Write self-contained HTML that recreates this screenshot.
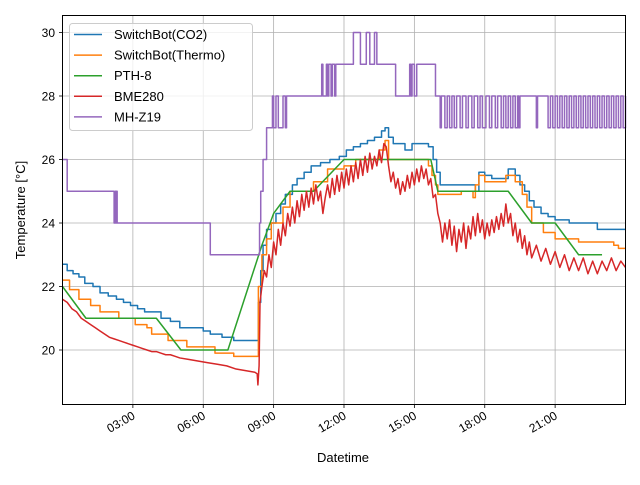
<!DOCTYPE html>
<html><head><meta charset="utf-8"><style>
body{margin:0;background:#fff;}
svg{font-family:"Liberation Sans","DejaVu Sans",sans-serif;}
</style></head><body>
<svg id="chart" width="640" height="480" xmlns="http://www.w3.org/2000/svg">
<rect width="640" height="480" fill="#fff"/>
<g id="grid"></g>
<g id="series"></g>
<rect x="62.5" y="15.5" width="563" height="389" fill="none" stroke="#000" stroke-width="1"/>
<g id="ticks"></g>
<text x="343" y="462" font-size="13" text-anchor="middle">Datetime</text>
<text transform="translate(25,210) rotate(-90)" font-size="13" text-anchor="middle">Temperature [°C]</text>
<g id="legend"></g>
</svg>
<script>
const xTickHours=[3,6,9,12,15,18,21];
const xTickLabels=["03:00","06:00","09:00","12:00","15:00","18:00","21:00"];
const yTicks=[20,22,24,26,28,30];
const seriesNames=["SwitchBot(CO2)","SwitchBot(Thermo)","PTH-8","BME280","MH-Z19"];
const seriesColors=["#1f77b4","#ff7f0e","#2ca02c","#d62728","#9467bd"];
const co2Data=[[0,22.7],[0.2,22.5],[0.45,22.4],[0.7,22.3],[0.95,22.1],[1.3,22.0],[1.6,21.8],[1.95,21.7],[2.3,21.6],[2.6,21.5],[2.9,21.4],[3.2,21.3],[3.5,21.2],[4.2,21.0],[4.6,20.9],[5.0,20.7],[6.0,20.6],[6.3,20.5],[6.8,20.4],[7.3,20.3],[8.35,21.5],[8.45,22.5],[8.55,23.3],[8.7,23.8],[8.9,24.0],[9.1,24.3],[9.3,24.6],[9.5,24.9],[9.8,25.2],[10.0,25.4],[10.3,25.6],[10.6,25.8],[11.0,25.9],[11.4,26.0],[11.8,26.1],[12.1,26.3],[12.4,26.4],[12.7,26.5],[13.0,26.6],[13.3,26.7],[13.6,26.9],[13.75,27.0],[13.9,26.7],[14.1,26.5],[14.6,26.3],[14.9,26.5],[15.6,26.4],[15.8,26.0],[15.95,25.6],[16.1,25.2],[17.6,25.0],[17.75,25.6],[18.0,25.5],[18.3,25.4],[19.0,25.7],[19.3,25.5],[19.5,25.2],[19.7,25.0],[19.9,24.7],[20.1,24.5],[20.4,24.3],[20.7,24.2],[21.0,24.1],[21.6,24.0],[22.8,23.8],[24,23.8]];
const thermoData=[[0,22.2],[0.3,21.9],[0.7,21.6],[1.2,21.4],[1.6,21.2],[2.4,21.0],[3.1,20.8],[3.6,20.7],[3.8,20.5],[4.5,20.3],[5.3,20.1],[6.5,19.9],[7.3,19.8],[8.35,22.0],[8.5,23.0],[8.7,23.5],[8.9,24.0],[9.4,24.5],[9.7,25.0],[10.7,25.3],[11.3,25.7],[12.0,25.8],[12.5,26.0],[13.5,26.3],[13.75,26.6],[13.9,26.0],[15.6,25.8],[15.75,25.5],[15.9,25.2],[16.0,24.9],[17.0,25.0],[17.5,24.8],[17.6,25.2],[17.75,25.5],[18.0,25.3],[18.9,25.5],[19.3,25.3],[19.6,24.9],[19.8,24.5],[20.0,24.0],[20.5,23.7],[21.0,23.5],[22.0,23.4],[23.5,23.3],[23.7,23.2],[24,23.2]];
const pthData=[[0,22.0],[1.0,21.0],[4.0,21.0],[5.05,20.0],[7.05,20.0],[8.5,23.3],[9.0,24.3],[9.7,25.0],[10.7,25.0],[12.0,26.0],[15.7,26.0],[16.0,25.0],[19.0,25.0],[20.0,24.0],[21.0,24.0],[22.0,23.0],[23.0,23.0]];
const bmeData=[[0,21.6],[0.2,21.5],[0.4,21.3],[0.6,21.2],[0.8,21.0],[1.0,20.9],[1.2,20.8],[1.4,20.7],[1.6,20.6],[1.8,20.5],[2.0,20.4],[2.2,20.35],[2.4,20.3],[2.6,20.25],[2.8,20.2],[3.0,20.15],[3.2,20.1],[3.4,20.05],[3.6,20.0],[3.8,19.95],[4.0,19.95],[4.2,19.9],[4.4,19.85],[4.6,19.85],[4.8,19.8],[5.0,19.75],[5.4,19.7],[5.8,19.65],[6.2,19.6],[6.6,19.55],[7.0,19.5],[7.4,19.4],[7.8,19.35],[8.2,19.3],[8.3,19.25],[8.33,18.9],[8.38,19.5],[8.42,21.5],[8.5,22.0],[8.6,22.5],[8.7,22.3],[8.8,23.0],[8.9,22.6],[9.0,23.4],[9.1,23.0],[9.2,23.8],[9.3,23.3],[9.4,24.0],[9.5,23.6],[9.6,24.3],[9.7,23.9],[9.8,24.5],[9.9,24.0],[10.0,24.7],[10.1,24.2],[10.2,24.9],[10.3,24.4],[10.4,25.0],[10.5,24.5],[10.6,25.1],[10.7,24.6],[10.8,25.2],[10.9,24.7],[11.0,25.0],[11.1,24.3],[11.2,24.8],[11.3,25.2],[11.4,24.8],[11.5,25.4],[11.6,24.9],[11.7,25.5],[11.8,25.0],[11.9,25.6],[12.0,25.1],[12.1,25.7],[12.2,25.2],[12.3,25.8],[12.4,25.3],[12.5,25.9],[12.6,25.4],[12.7,26.0],[12.8,25.5],[12.9,26.1],[13.0,25.6],[13.1,26.2],[13.2,25.7],[13.3,26.1],[13.4,25.8],[13.5,26.3],[13.6,25.9],[13.7,26.5],[13.8,26.4],[13.9,25.8],[14.0,25.3],[14.1,25.6],[14.2,25.1],[14.3,25.4],[14.4,24.9],[14.5,25.3],[14.6,25.0],[14.7,25.5],[14.8,25.1],[14.9,25.6],[15.0,25.2],[15.1,25.7],[15.2,25.3],[15.3,25.8],[15.4,25.4],[15.5,25.7],[15.6,25.2],[15.7,25.4],[15.8,24.8],[15.9,24.9],[16.0,24.3],[16.1,24.0],[16.2,23.4],[16.3,24.0],[16.4,23.5],[16.5,24.1],[16.6,23.3],[16.7,23.9],[16.8,23.1],[16.9,23.8],[17.0,23.4],[17.1,24.0],[17.2,23.2],[17.3,23.9],[17.4,23.5],[17.5,24.2],[17.6,23.6],[17.7,24.3],[17.8,23.7],[17.9,24.1],[18.0,23.5],[18.1,24.0],[18.2,23.6],[18.3,24.1],[18.4,23.7],[18.5,24.2],[18.6,23.8],[18.7,24.3],[18.8,23.9],[18.9,24.6],[19.0,24.0],[19.1,24.3],[19.2,23.6],[19.3,24.0],[19.4,23.4],[19.5,23.8],[19.6,23.2],[19.7,23.6],[19.8,23.0],[19.9,23.4],[20.0,22.9],[20.2,23.3],[20.4,22.8],[20.6,23.2],[20.8,22.7],[21.0,23.1],[21.2,22.6],[21.4,23.0],[21.6,22.5],[21.8,22.9],[22.0,22.5],[22.2,22.9],[22.4,22.4],[22.6,22.8],[22.8,22.4],[23.0,22.8],[23.2,22.5],[23.4,22.9],[23.6,22.5],[23.8,22.8],[24.0,22.6]];
const mhzData=[[0,26],[0.2,25],[2.2,24],[2.25,25],[2.28,24],[2.3,25],[2.33,24],[6.3,23],[8.4,24],[8.45,25],[8.55,26],[8.7,27],[8.95,28],[9.0,27],[9.1,28],[9.2,27],[9.4,28],[9.5,27],[9.55,28],[11.05,29],[11.1,28],[11.25,29],[11.3,28],[11.35,29],[11.45,28],[11.5,29],[11.6,28],[11.65,29],[12.4,30],[12.7,29],[12.95,30],[13.1,29],[13.3,30],[13.4,29],[14.2,28],[14.8,29],[14.85,28],[14.9,29],[15.0,28],[15.1,29],[15.9,28],[16.1,27],[16.15,28],[16.3,27],[16.4,28],[16.5,27],[16.6,28],[16.7,27],[16.8,28],[16.95,27],[17.05,28],[17.2,27],[17.3,28],[17.45,27],[17.55,28],[17.7,27],[17.8,28],[17.9,27],[18.05,28],[18.2,27],[18.3,28],[18.45,27],[18.55,28],[18.7,27],[18.8,28],[18.9,27],[19.0,28],[19.1,27],[19.2,28],[19.3,27],[19.4,28],[19.45,27],[19.5,28],[20.2,27],[20.25,28],[20.7,27],[20.8,28],[20.9,27],[21.0,28],[21.1,27],[21.2,28],[21.3,27],[21.4,28],[21.5,27],[21.6,28],[21.7,27],[21.8,28],[21.9,27],[22.0,28],[22.1,27],[22.2,28],[22.3,27],[22.4,28],[22.5,27],[22.6,28],[22.7,27],[22.8,28],[22.9,27],[23.0,28],[23.1,27],[23.2,28],[23.3,27],[23.4,28],[23.5,27],[23.6,28],[23.7,27],[23.8,28],[23.9,27],[24,28]];

const NS="http://www.w3.org/2000/svg";
function xs(h){return 62.5+h*(563/24);}
function ys(v){return 350-(v-20)*31.75;}
function mk(tag,attrs,parent){const e=document.createElementNS(NS,tag);for(const k in attrs)e.setAttribute(k,attrs[k]);parent.appendChild(e);return e;}
const grid=document.getElementById('grid'),ticks=document.getElementById('ticks'),ser=document.getElementById('series'),leg=document.getElementById('legend');
xTickHours.forEach((h,i)=>{
  const x=xs(h);
  const g=mk('line',{x1:x,x2:x,y1:15.5,y2:404.5,stroke:'#b0b0b0','stroke-width':0.8},grid);
  
  
  const t=mk('line',{x1:x,x2:x,y1:404.5,y2:408,stroke:'#000','stroke-width':0.8},ticks);
  
  
  const l=mk('text',{'font-size':12,'text-anchor':'end',transform:`translate(${x+3},${418}) rotate(-30)`},ticks);
  l.textContent=xTickLabels[i];
  
  
});
yTicks.forEach(v=>{
  const y=ys(v);
  const g=mk('line',{x1:62.5,x2:625.5,y1:y,y2:y,stroke:'#b0b0b0','stroke-width':0.8},grid);
  
  
  const t=mk('line',{x1:59,x2:62.5,y1:y,y2:y,stroke:'#000','stroke-width':0.8},ticks);
  
  
  const l=mk('text',{x:55,y:y+4.5,'font-size':12,'text-anchor':'end'},ticks);
  l.textContent=String(v);
  
  
});
function stepPath(d){let p='M'+xs(d[0][0])+','+ys(d[0][1]);for(let i=1;i<d.length;i++){p+='H'+xs(d[i][0])+'V'+ys(d[i][1]);}return p;}
function linePath(d){return d.map((p,i)=>(i?'L':'M')+xs(p[0])+','+ys(p[1])).join('');}
const paths=[stepPath(co2Data),stepPath(thermoData),linePath(pthData),linePath(bmeData),stepPath(mhzData)];
const names=['series-switchbot-co2','series-switchbot-thermo','series-pth8','series-bme280','series-mhz19'];
paths.forEach((d,i)=>{
  const p=mk('path',{d:d,fill:'none',stroke:seriesColors[i],'stroke-width':1.5,'stroke-linejoin':'round'},ser);
  
  
});
mk('rect',{x:69.5,y:23.5,width:183,height:107,rx:3,fill:'#fff','fill-opacity':0.8,stroke:'#ccc'},leg);
seriesNames.forEach((n,i)=>{
  const y=34.5+i*20.6;
  const g=mk('g',{},leg);
  
  
  mk('line',{x1:74,x2:102,y1:y,y2:y,stroke:seriesColors[i],'stroke-width':1.5},g);
  const t=mk('text',{x:114,y:y+4.5,'font-size':13},g);
  t.textContent=n;
});
</script>
</body></html>
